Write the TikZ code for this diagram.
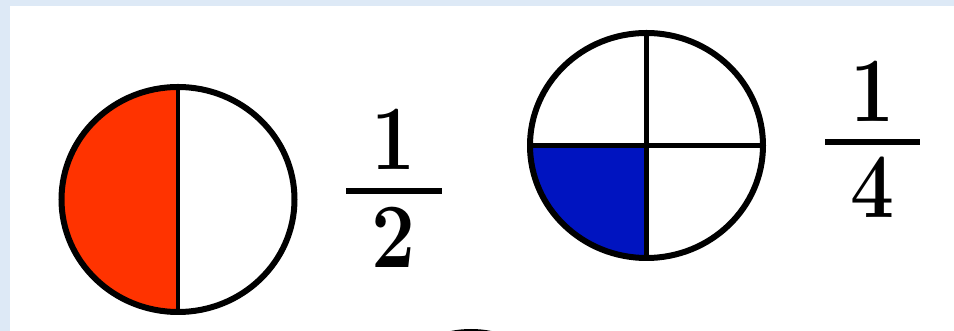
\documentclass[tikz,border=0pt]{standalone}
\usepackage{tikz}
\definecolor{bgblue}{RGB}{221,233,246}
\definecolor{halfred}{RGB}{255,51,0}
\definecolor{quartblue}{RGB}{0,20,192}
\tikzset{
  rim/.style={draw=black, line width=6pt},
  divider/.style={draw=black, line width=4.5pt},
  fracbar/.style={draw=black, line width=6pt},
  digit/.style={inner sep=0pt, anchor=base, font=\fontsize{92}{92}\selectfont\bfseries}
}
\begin{document}
\begin{tikzpicture}[x=1pt,y=1pt]
\useasboundingbox (0,0) rectangle (954,331);
\fill[bgblue] (0,0) rectangle (954,331);
\fill[white] (10,0) rectangle (954,325);
% circle 1 (one half)
\coordinate (c1) at (178,131.5);
\fill[halfred] (c1) ++(0,112.5) arc[start angle=90, end angle=270, x radius=116.5, y radius=112.5] -- cycle;
\draw[divider] ([yshift=112.5pt]c1) -- ([yshift=-112.5pt]c1);
\draw[rim] (c1) ellipse[x radius=116.5, y radius=112.5];
% fraction 1/2
\node[digit] (n1) at (394,161) {\scalebox{0.85}[1]{1}};
\node[digit] (d1) at (394,63) {\scalebox{0.85}[1]{2}};
\coordinate (b1l) at (346,140);
\coordinate (b1r) at (442,140);
\draw[fracbar] (b1l) -- (b1r);
% circle 2 (one quarter)
\coordinate (c2) at (646.5,185.5);
\fill[quartblue] (c2) -- ++(-116.5,0) arc[start angle=180, end angle=270, x radius=116.5, y radius=112.5] -- cycle;
\draw[divider] ([yshift=112.5pt]c2) -- ([yshift=-112.5pt]c2);
\draw[divider] ([xshift=-116.5pt]c2) -- ([xshift=116.5pt]c2);
\draw[rim] (c2) ellipse[x radius=116.5, y radius=112.5];
% fraction 1/4
\node[digit] (n2) at (872.5,209) {\scalebox{0.85}[1]{1}};
\node[digit] (d2) at (872.5,113) {\scalebox{0.85}[1]{4}};
\coordinate (b2l) at (825,189);
\coordinate (b2r) at (920,189);
\draw[fracbar] (b2l) -- (b2r);
% partial circle at bottom edge
\begin{scope}
\clip (0,0) rectangle (954,331);
\coordinate (c3) at (471,-101);
\draw[rim] (c3) circle[radius=100];
\end{scope}
\end{tikzpicture}
\end{document}
